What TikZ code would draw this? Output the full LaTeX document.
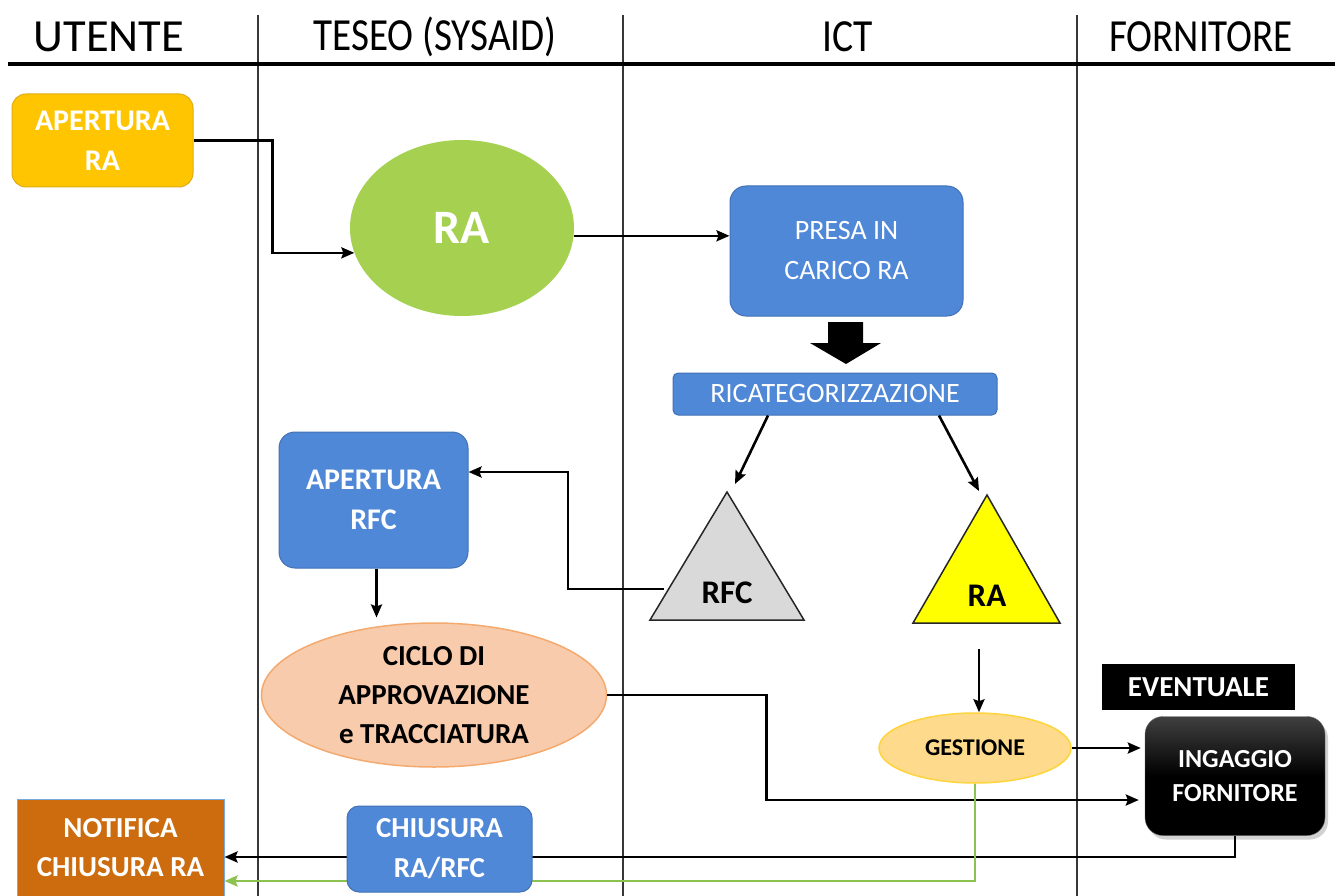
\documentclass[tikz,border=0pt]{standalone}
\usepackage{fontspec}
\setmainfont{Carlito}
\usetikzlibrary{arrows.meta,shapes.geometric,shadows}

\definecolor{boxblue}{RGB}{80,136,216}
\definecolor{boxblueline}{RGB}{65,113,180}
\definecolor{startyellow}{RGB}{255,198,0}
\definecolor{startyellowline}{RGB}{222,172,20}
\definecolor{ragreen}{RGB}{165,208,80}
\definecolor{cyclefill}{RGB}{248,203,173}
\definecolor{cycleline}{RGB}{244,170,110}
\definecolor{manfill}{RGB}{253,218,140}
\definecolor{manline}{RGB}{255,212,60}
\definecolor{notifyorange}{RGB}{205,108,14}
\definecolor{notifyline}{RGB}{120,170,220}
\definecolor{rfcgray}{RGB}{217,217,217}
\definecolor{raYellow}{RGB}{255,255,0}
\definecolor{lanegray}{RGB}{55,55,55}
\definecolor{closegreen}{RGB}{140,195,80}

\newcommand{\fs}[1]{\fontsize{#1}{#1}\selectfont}

\begin{document}
\begin{tikzpicture}[x=1pt,y=-1pt,
  header/.style={font=\fs{46}, text=black, inner sep=0pt},
  lane/.style={draw=lanegray, line width=1.3pt},
  arr/.style={draw=black, line width=2.6pt,
    -{Stealth[length=13pt,width=11pt,inset=2pt]}},
  greenarr/.style={draw=closegreen, line width=2.8pt,
    -{Stealth[length=13pt,width=11pt,inset=2pt]}},
  bluebox/.style={rectangle, rounded corners=16pt, fill=boxblue,
    draw=boxblueline, line width=1pt, text=white, align=center, inner sep=0pt},
  wbold/.style={font=\bfseries\fontsize{30}{40}\selectfont},
  kbold/.style={font=\bfseries\fontsize{29}{39}\selectfont, text=black}
]
% page
\path[use as bounding box, fill=white] (0,0) rectangle (1335,896);

% swim-lane headers
\node[header] (hUtente) at (109,37) {\scalebox{1.01}[1]{UTENTE}};
\node[header] (hTeseo)  at (435,37) {\scalebox{0.85}[1]{TESEO (SYSAID)}};
\node[header] (hIct)    at (848,37) {\scalebox{0.86}[1]{ICT}};
\node[header] (hForn)   at (1201,37) {\scalebox{0.85}[1]{FORNITORE}};

% lane separators and header rule
\draw[lane] (258,15) -- (258,896);
\draw[lane] (623,15) -- (623,896);
\draw[lane] (1077,15) -- (1077,896);
\draw[draw=black, line width=3.2pt] (8,64) -- (1335,64);

% UTENTE: request opening
\node[rectangle, rounded corners=14pt, fill=startyellow, draw=startyellowline,
  line width=1pt, minimum width=181pt, minimum height=93pt, inner sep=0pt,
  text=white, align=center, wbold] (apRA) at (102.5,140.5) {APERTURA\\RA};

% TESEO: request record
\node[ellipse, fill=ragreen, minimum width=224pt, minimum height=176pt,
  inner sep=0pt, text=white, font=\bfseries\fs{48}] (raEll) at (462,228) {RA};

% ICT: take charge
\node[bluebox, minimum width=233pt, minimum height=130pt,
  font=\fontsize{28}{40}\selectfont] (presa) at (846.5,251) {PRESA IN\\CARICO RA};

% block arrow towards recategorisation
\fill[black] (828,322) -- (863,322) -- (863,343) -- (881,343) -- (846,364)
  -- (810,343) -- (828,343) -- cycle;

\node[bluebox, rounded corners=5pt, minimum width=324pt, minimum height=42pt,
  font=\fontsize{28}{28}\selectfont] (ricat) at (835,394) {RICATEGORIZZAZIONE};

% the two outcomes
\filldraw[fill=rfcgray, draw=black!85, line width=1.5pt]
  (727,492) -- (804,620) -- (650,620) -- cycle;
\node[font=\bfseries\fs{33}, text=black, inner sep=0pt] (rfcLbl) at (727,593) {RFC};
\filldraw[fill=raYellow, draw=black!85, line width=1.5pt]
  (987,495) -- (1060,623) -- (913,623) -- cycle;
\node[font=\bfseries\fs{33}, text=black, inner sep=0pt] (raLbl) at (987,596) {RA};

\coordinate (rfcIn)  at (735,484);
\coordinate (raIn)   at (979,491);
\coordinate (rfcOut) at (664,589);
\coordinate (raOut)  at (979,649);

% TESEO: change request opening and approval
\node[bluebox, minimum width=189pt, minimum height=136pt, wbold]
  (apRFC) at (373.5,500) {APERTURA\\RFC};

\node[ellipse, fill=cyclefill, draw=cycleline, line width=1.5pt,
  minimum width=345pt, minimum height=144pt, inner sep=0pt, align=center, kbold]
  (ciclo) at (434,695) {CICLO DI\\APPROVAZIONE\\e TRACCIATURA};

% ICT: handling
\node[ellipse, fill=manfill, draw=manline, line width=1.5pt,
  minimum width=192pt, minimum height=70pt, inner sep=0pt,
  font=\bfseries\fs{24}, text=black] (gest) at (975,748) {GESTIONE};

% FORNITORE
\node[rectangle, fill=black, minimum width=193pt, minimum height=46pt,
  inner sep=0pt, text=white, font=\bfseries\fs{29}] (event) at (1198.5,687) {EVENTUALE};
\node[rectangle, rounded corners=18pt, top color=black!75, bottom color=black,
  middle color=black, draw=black!60,
  drop shadow={shadow xshift=3pt, shadow yshift=-4pt, opacity=0.35},
  minimum width=180pt, minimum height=119pt, inner sep=0pt, text=white,
  align=center, font=\bfseries\fontsize{26}{34}\selectfont]
  (ingag) at (1235,776) {INGAGGIO\\FORNITORE};

% UTENTE: closure notice
\node[rectangle, fill=notifyorange, draw=notifyline, line width=1pt,
  minimum width=207pt, minimum height=97pt, inner sep=0pt, text=white,
  align=center, font=\bfseries\fontsize{29}{39}\selectfont]
  (notif) at (120.5,847.5) {NOTIFICA\\CHIUSURA RA};

% connectors
\draw[arr] (apRA.east) -- ++(79,0) |- (raEll.193);
\draw[arr] (raEll.-4) -- (raEll.-4 -| presa.west);
\draw[arr] ([xshift=-67pt]ricat.south) -- (rfcIn);
\draw[arr] ([xshift=104pt]ricat.south) -- (raIn);
\draw[arr] (rfcOut) -- ++(-96,0) |- ([yshift=28pt]apRFC.east);
\draw[arr] ([xshift=3pt]apRFC.south) -- ++(0,49);
\draw[arr] (raOut) -- (raOut |- gest.north);
\draw[arr, shorten >=6pt] (ciclo.east) -- ++(159,0) |- ([yshift=-24pt]ingag.west);
\draw[arr, shorten >=4pt] (gest.east) -- (gest.east -| ingag.west);
\draw[arr] (ingag.south) |- ([yshift=-9.5pt]notif.east);
\draw[greenarr] (gest.south) |- ([yshift=-33.5pt]notif.east);

% TESEO: closure, laid over the return lines
\node[bluebox, rounded corners=12pt, minimum width=185pt, minimum height=86pt,
  font=\bfseries\fontsize{29}{40}\selectfont] (chius) at (439.5,849) {CHIUSURA\\RA/RFC};
\end{tikzpicture}
\end{document}
